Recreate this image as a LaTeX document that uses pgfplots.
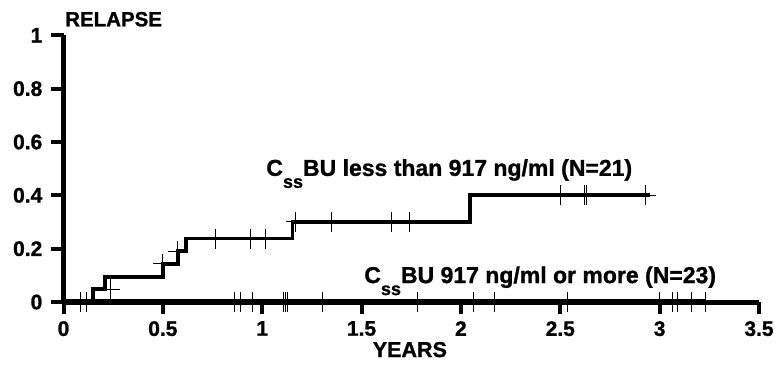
\documentclass[border=0pt]{standalone}
\usepackage{pgfplots}
\pgfplotsset{compat=1.18}
\usepackage{fontspec}
\setmainfont{Liberation Sans}[BoldFeatures={FakeBold=1.2}]
\begin{document}
\begin{tikzpicture}
\path[use as bounding box] (0pt,0pt) rectangle (775pt,-383pt);
\begin{axis}[
  at={(63.5pt,-302pt)}, anchor=south west,
  width=695.5pt, height=266.7pt, scale only axis,
  xmin=0, xmax=3.5, ymin=0, ymax=1,
  axis lines*=left,
  axis line style={line width=5pt, black},
  xtick={0,0.5,1,1.5,2,2.5,3,3.5},
  ytick={0,0.2,0.4,0.6,0.8,1},
  xticklabels={0,0.5,1,1.5,2,2.5,3,3.5},
  yticklabels={0,0.2,0.4,0.6,0.8,1},
  tick align=outside,
  major tick length=12pt,
  tick style={line width=4pt, black},
  tick label style={font=\bfseries\fontsize{21}{21}\selectfont, inner sep=0pt},
  xticklabel style={yshift=-7pt},
  yticklabel style={xshift=-9pt},
  /pgf/number format/assume math mode=true,
  every axis x label/.style={at={(axis description cs:0.498,0)}, anchor=base, inner sep=0pt, yshift=-55pt, font=\bfseries\fontsize{21.5}{21.5}\selectfont},
  every axis y label/.style={at={(axis description cs:0,1)}, anchor=base west, inner sep=0pt, xshift=1.5pt, yshift=9pt, font=\bfseries\fontsize{20.5}{20.5}\selectfont},
  xlabel={YEARS},
  ylabel={RELAPSE},
  clip=false,
]
% C_ss BU less than 917 ng/ml
\addplot[const plot, line width=3.8pt, black] coordinates {
  (0,0) (0.148,0.048) (0.207,0.095) (0.50,0.143) (0.575,0.19) (0.617,0.238) (1.152,0.30) (2.047,0.40) (2.95,0.40)
};
\addplot[only marks, mark=+, mark size=10pt, line width=1pt, black] coordinates {
  (0.235,0.048) (0.5,0.143) (0.575,0.19) (0.767,0.238) (0.943,0.238) (1.015,0.238)
  (1.169,0.30) (1.35,0.30) (1.653,0.30) (1.74,0.30)
  (2.50,0.40) (2.62,0.40) (2.63,0.40) (2.93,0.40)
};
% C_ss BU 917 ng/ml or more
\addplot[line width=3.5pt, black, yshift=1.5pt] coordinates {(0,0) (3.23,0)};
\addplot[only marks, mark=+, mark size=10pt, line width=1pt, black] coordinates {
  (0.087,0) (0.115,0) (0.86,0) (0.893,0) (0.951,0) (1.105,0) (1.115,0) (1.127,0)
  (1.303,0) (1.78,0) (2.064,0) (2.17,0) (2.538,0) (3.0,0) (3.064,0) (3.09,0) (3.16,0) (3.23,0)
};
\node[anchor=base west, inner sep=0pt, font=\bfseries\fontsize{23}{23}\selectfont] at (axis cs:1.02,0.473)
  {C\raisebox{-12pt}{\fontsize{18}{18}\selectfont ss}BU less than 917 ng/ml (N=21)};
\node[anchor=base west, inner sep=0pt, font=\bfseries\fontsize{23}{23}\selectfont] at (axis cs:1.513,0.071)
  {C\raisebox{-12pt}{\fontsize{18}{18}\selectfont ss}BU 917 ng/ml or more (N=23)};
\end{axis}
\end{tikzpicture}
\end{document}
